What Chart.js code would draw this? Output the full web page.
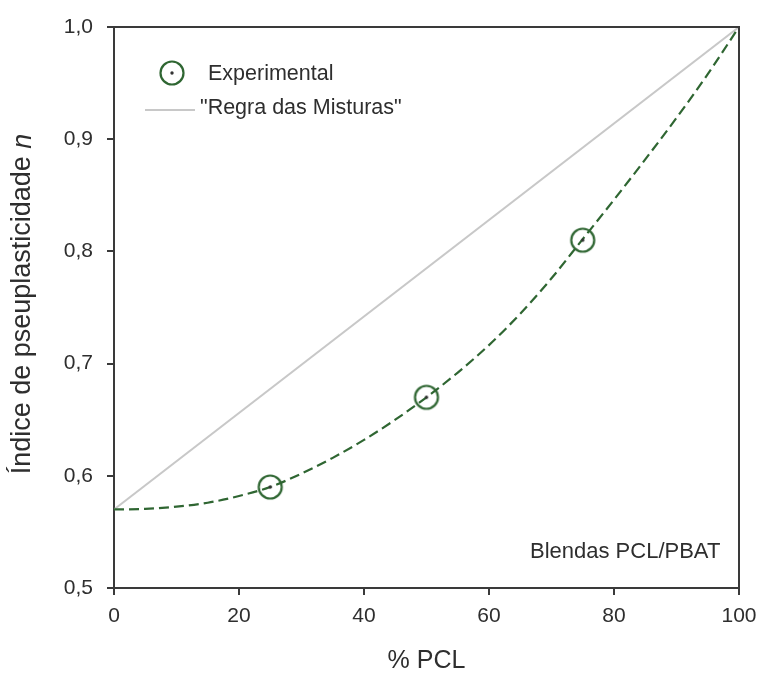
<!DOCTYPE html>
<html>
<head>
<meta charset="utf-8">
<script src="https://cdn.jsdelivr.net/npm/chart.js@4/dist/chart.umd.min.js"></script>
<style>
  html, body { margin: 0; padding: 0; background: #fff; }
  #wrap { width: 775px; height: 676px; position: relative; }
</style>
</head>
<body>
<div id="wrap"><canvas id="chart" width="775" height="676"></canvas></div>
<script>
// pontos experimentais (n vs % PCL)
const pclExp = [25, 50, 75];
const nExp = [0.59, 0.67, 0.81];

// curva de ajuste (tracejada)
const pclFit = [0, 5, 10, 15, 20, 25, 30, 35, 40, 45, 50, 55, 60, 65, 70, 75, 80, 85, 90, 95, 100];
const nFit = [0.570, 0.5705, 0.5725, 0.576, 0.582, 0.590, 0.602, 0.616, 0.632, 0.650, 0.670,
              0.692, 0.7165, 0.7445, 0.776, 0.811, 0.846, 0.882, 0.919, 0.958, 1.0];

// regra das misturas
const pclMix = [0, 100];
const nMix = [0.57, 1.0];

const xTicks = [0, 20, 40, 60, 80, 100];
const yTicks = [0.5, 0.6, 0.7, 0.8, 0.9, 1.0];

const GREEN = '#2f6632';
const AXIS = '#3a3a3a';
const TEXT = '#2e2e2e';
const FONT = '"Liberation Sans", Arial, sans-serif';

function toPts(xs, ys) {
  return xs.map((x, i) => ({ x: x, y: ys[i] }));
}

// marcador: círculo com ponto central
function makeMarker() {
  const c = document.createElement('canvas');
  c.width = 28; c.height = 28;
  const g = c.getContext('2d');
  g.strokeStyle = GREEN;
  g.lineWidth = 2.2;
  g.beginPath(); g.arc(14, 14, 11.5, 0, Math.PI * 2); g.stroke();
  g.fillStyle = '#333';
  g.beginPath(); g.arc(14, 14, 1.7, 0, Math.PI * 2); g.fill();
  return c;
}
const marker = makeMarker();

// moldura, legenda, anotação e título do eixo y
const decorations = {
  id: 'decorations',
  afterDraw(chart) {
    const { ctx, chartArea: a } = chart;
    ctx.save();
    ctx.strokeStyle = AXIS;
    ctx.lineWidth = 2;
    ctx.beginPath();
    ctx.moveTo(a.left, a.top);
    ctx.lineTo(a.right, a.top);
    ctx.lineTo(a.right, a.bottom);
    ctx.stroke();

    // legenda
    ctx.drawImage(marker, 172 - 14, 73 - 14);
    ctx.strokeStyle = '#c8c8c8';
    ctx.lineWidth = 2;
    ctx.beginPath(); ctx.moveTo(145, 110); ctx.lineTo(195, 110); ctx.stroke();
    ctx.fillStyle = TEXT;
    ctx.font = '21.5px ' + FONT;
    ctx.textBaseline = 'middle';
    ctx.textAlign = 'left';
    ctx.fillText('Experimental', 208, 74);
    ctx.fillText('"Regra das Misturas"', 200, 108);

    ctx.font = '22px ' + FONT;
    ctx.fillText('Blendas PCL/PBAT', 530, 552);

    // título do eixo y com "n" em itálico
    ctx.translate(23, 304);
    ctx.rotate(-Math.PI / 2);
    ctx.font = '27px ' + FONT;
    const main = 'Índice de pseuplasticidade ';
    const w1 = ctx.measureText(main).width;
    ctx.font = 'italic 27px ' + FONT;
    const w2 = ctx.measureText('n').width;
    const x0 = -(w1 + w2) / 2;
    ctx.font = '27px ' + FONT;
    ctx.fillText(main, x0, 0);
    ctx.font = 'italic 27px ' + FONT;
    ctx.fillText('n', x0 + w1, 0);
    ctx.restore();
  }
};

new Chart(document.getElementById('chart'), {
  type: 'scatter',
  data: {
    datasets: [
      {
        label: '"Regra das Misturas"',
        data: toPts(pclMix, nMix),
        showLine: true,
        borderColor: '#c8c8c8',
        borderWidth: 2,
        pointRadius: 0,
        order: 3
      },
      {
        label: 'Ajuste',
        data: toPts(pclFit, nFit),
        showLine: true,
        borderColor: GREEN,
        borderWidth: 2.2,
        borderDash: [10, 5],
        cubicInterpolationMode: 'monotone',
        pointRadius: 0,
        order: 2
      },
      {
        label: 'Experimental',
        data: toPts(pclExp, nExp),
        pointStyle: marker,
        pointRadius: 12,
        order: 1
      }
    ]
  },
  options: {
    responsive: false,
    animation: false,
    layout: { padding: { top: 27, right: 36, left: 0, bottom: 0 } },
    plugins: {
      legend: { display: false },
      tooltip: { enabled: false }
    },
    scales: {
      x: {
        type: 'linear',
        min: 0, max: 100,
        afterFit(scale) { scale.height = 88; },
        afterBuildTicks(scale) { scale.ticks = xTicks.map(v => ({ value: v })); },
        border: { color: AXIS, width: 2 },
        grid: { drawOnChartArea: false, drawTicks: true, tickLength: 7, color: AXIS, lineWidth: 2 },
        ticks: { color: TEXT, font: { family: FONT, size: 21 }, padding: 9 },
        title: {
          display: true, text: '% PCL', color: TEXT,
          font: { family: FONT, size: 25 }, padding: { top: 4, bottom: 0 }
        }
      },
      y: {
        type: 'linear',
        min: 0.5, max: 1.0,
        afterFit(scale) { scale.width = 114; },
        afterBuildTicks(scale) { scale.ticks = yTicks.map(v => ({ value: v })); },
        border: { color: AXIS, width: 2 },
        grid: { drawOnChartArea: false, drawTicks: true, tickLength: 7, color: AXIS, lineWidth: 2 },
        ticks: {
          color: TEXT,
          font: { family: FONT, size: 21 },
          padding: 14,
          callback: v => v.toFixed(1).replace('.', ',')
        }
      }
    }
  },
  plugins: [decorations]
});
</script>
</body>
</html>
